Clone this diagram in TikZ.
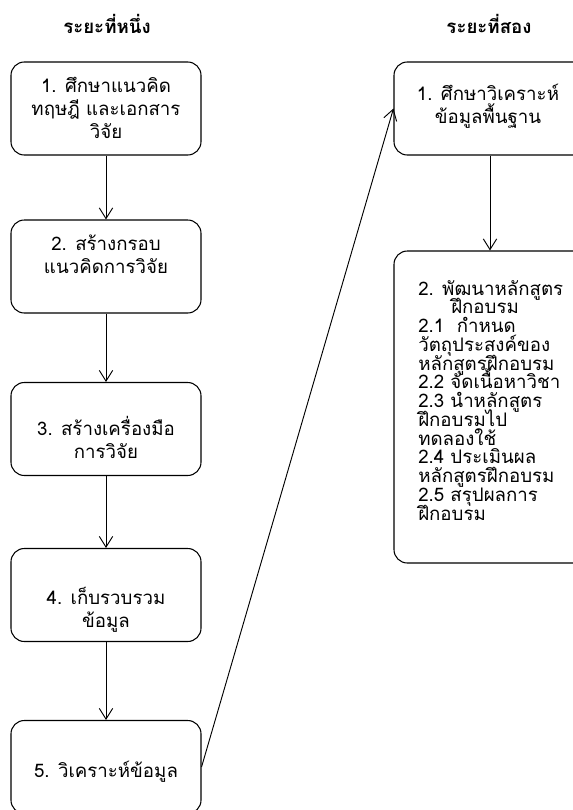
\documentclass[tikz,border=0pt]{standalone}
\usepackage{fontspec}
\usetikzlibrary{arrows.meta}
\newfontfamily\thaifont[Script=Thai]{Loma}
% keep a fixed baseline distance even when tall vowel marks stack up
\newcommand\fixedlines{\lineskiplimit=-20pt\relax\lineskip=0pt\relax}
\begin{document}
\begin{tikzpicture}[x=0.75pt,y=-0.75pt,
  stagebox/.style={draw,line width=0.8pt,rounded corners=10pt,
    minimum width=142.5pt,minimum height=69.75pt,inner sep=0pt},
  txt/.style={font=\thaifont\fontsize{14}{16.9}\selectfont\fixedlines,
    align=center,anchor=base,inner sep=0pt},
  listtxt/.style={font=\thaifont\fontsize{14}{14.06}\selectfont\fixedlines,
    align=left,anchor=base west,inner sep=0pt},
  head/.style={font=\thaifont\bfseries\fontsize{14}{16}\selectfont,
    anchor=base,inner sep=0pt},
  flow/.style={draw,line width=0.7pt,-{Straight Barb[length=8pt,width=10pt]}}]
\useasboundingbox (0,0) rectangle (573,810);
\clip (0,0) rectangle (573,810);

% column headings
\node[head] (h1) at (107,33) {ระยะที่หนึ่ง};
\node[head] (h2) at (489,33) {ระยะที่สอง};

% phase one boxes
\node[stagebox] (b1) at (106,108.5) {};
\node[stagebox] (b2) at (106,266.5) {};
\node[stagebox] (b3) at (106,429) {};
\node[stagebox] (b4) at (106,595) {};
\node[stagebox] (b5) at (106,767) {};

% phase two boxes
\node[stagebox,minimum width=144pt] (r1) at (490,108.5) {};
\node[stagebox,minimum width=144pt,minimum height=234pt] (r2) at (490,407) {};

% box texts (anchored at the baseline of their last line)
\node[txt] (t1) at (106,138) {1. ศึกษาแนวคิด\\ทฤษฎี และเอกสาร\\วิจัย};
\node[txt] (t2) at (106,273) {2. สร้างกรอบ\\แนวคิดการวิจัย};
\node[txt] (t3) at (106,458) {3. สร้างเครื่องมือ\\การวิจัย};
\node[txt] (t4) at (106,627) {4. เก็บรวบรวม\\ข้อมูล};
\node[txt] (t5) at (106,777) {5. วิเคราะห์ข้อมูล};
\node[txt] (t6) at (488,123) {1. ศึกษาวิเคราะห์\\ข้อมูลพื้นฐาน};
\node[listtxt] (t7) at (418,520) {2. พัฒนาหลักสูตร\\
\hspace*{24.75pt}ฝึกอบรม\\
2.1\ \ กำหนด\\
วัตถุประสงค์ของ\\
หลักสูตรฝึกอบรม\\
2.2 จัดเนื้อหาวิชา\\
2.3 นำหลักสูตร\\
ฝึกอบรมไป\\
ทดลองใช้\\
2.4 ประเมินผล\\
หลักสูตรฝึกอบรม\\
2.5 สรุปผลการ\\
ฝึกอบรม};

% connectors
\draw[flow] (b1) -- (b2);
\draw[flow] (b2) -- (b3);
\draw[flow] (b3) -- (b4);
\draw[flow] (b4) -- (b5);
\draw[flow] (b5.east) -- (r1.west);
\draw[flow] (r1) -- (r2);
\end{tikzpicture}
\end{document}
